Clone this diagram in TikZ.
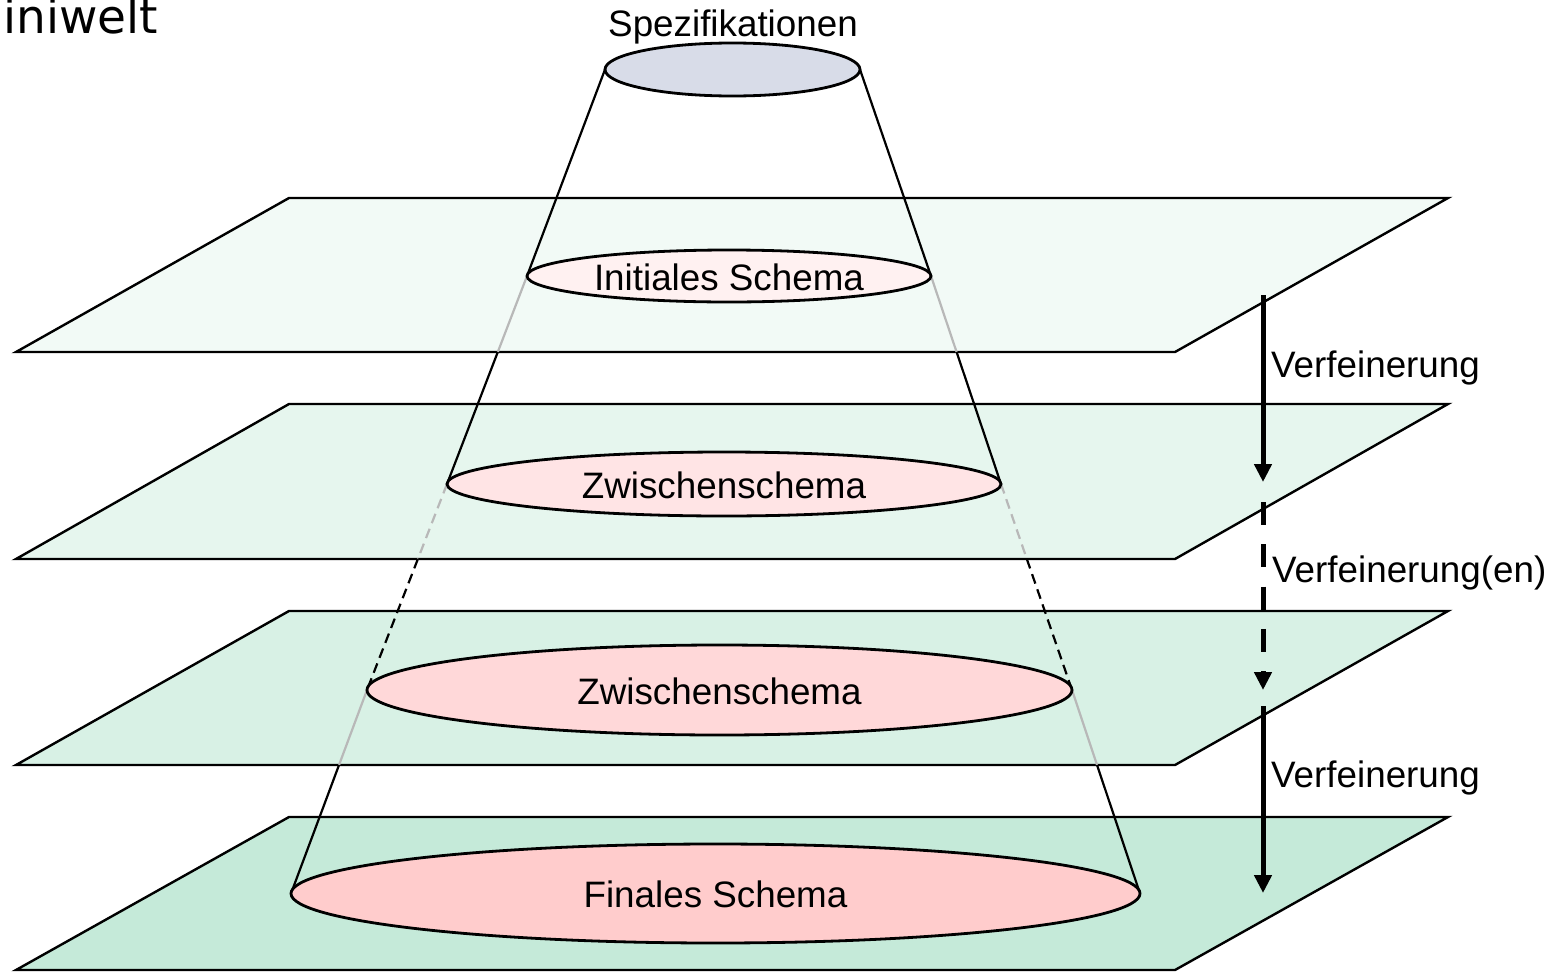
\documentclass[tikz,border=0pt]{standalone}
\usepackage{fontspec}
\setmainfont{Liberation Sans}
\newfontfamily\cornerfont{DejaVu Sans}
\usetikzlibrary{arrows.meta,shapes.geometric,calc}

\definecolor{planeA}{HTML}{F2FAF6}
\definecolor{planeB}{HTML}{E6F6EE}
\definecolor{planeC}{HTML}{D8F1E5}
\definecolor{planeD}{HTML}{C5EAD9}
\definecolor{specFill}{HTML}{D8DCE8}
\definecolor{initFill}{HTML}{FFF1F1}
\definecolor{zwaFill}{HTML}{FFE4E5}
\definecolor{zwbFill}{HTML}{FFD8D9}
\definecolor{finFill}{HTML}{FFCCCC}
\definecolor{coneGray}{HTML}{B8B8B8}

\pgfdeclarelayer{back}
\pgfdeclarelayer{mid}
\pgfsetlayers{back,mid,main}

\tikzset{
  plane/.style={draw=black, line width=2.4pt, line join=miter},
  cone/.style={draw=black, line width=2.2pt},
  hidden/.style={draw=coneGray, line width=2.2pt},
  brokenline/.style={dash pattern=on 10pt off 6pt},
  schema/.style={ellipse, draw=black, line width=2.8pt, inner sep=0pt, outer sep=0pt},
  lbl/.style={font=\fontsize{36.8}{44}\selectfont, inner sep=0pt, anchor=base},
  flow/.style={line width=5pt, -{Triangle[width=17pt,length=18pt]}},
}

\begin{document}
\begin{tikzpicture}[x=1pt,y=-1pt]
\useasboundingbox (0,0) rectangle (1566,972);

% plane corners
\coordinate (p1tl) at (289,198); \coordinate (p1tr) at (1448,198);
\coordinate (p1br) at (1175,352); \coordinate (p1bl) at (16,352);
\coordinate (p2tl) at (289,404); \coordinate (p2tr) at (1448,404);
\coordinate (p2br) at (1175,559); \coordinate (p2bl) at (16,559);
\coordinate (p3tl) at (289,611); \coordinate (p3tr) at (1448,611);
\coordinate (p3br) at (1175,765); \coordinate (p3bl) at (16,765);
\coordinate (p4tl) at (289,817); \coordinate (p4tr) at (1448,817);
\coordinate (p4br) at (1175,970); \coordinate (p4bl) at (16,970);

\begin{pgfonlayer}{back}
  \fill[white] (0,0) rectangle (1566,972);
  \path[plane, fill=planeA] (p1tl) -- (p1tr) -- (p1br) -- (p1bl) -- cycle;
  \path[plane, fill=planeB] (p2tl) -- (p2tr) -- (p2br) -- (p2bl) -- cycle;
  \path[plane, fill=planeC] (p3tl) -- (p3tr) -- (p3br) -- (p3bl) -- cycle;
  \path[plane, fill=planeD] (p4tl) -- (p4tr) -- (p4br) -- (p4bl) -- cycle;
\end{pgfonlayer}

% schema ellipses
\node[schema, fill=specFill, minimum width=255pt, minimum height=53pt] (spez) at (732.5,69.5) {};
\node[schema, fill=initFill, minimum width=404pt, minimum height=52pt] (init) at (729,276) {};
\node[schema, fill=zwaFill, minimum width=554pt, minimum height=64pt] (zwa) at (724,484) {};
\node[schema, fill=zwbFill, minimum width=705pt, minimum height=90pt] (zwb) at (719.5,690) {};
\node[schema, fill=finFill, minimum width=849pt, minimum height=99pt] (fin) at (715.5,893.5) {};

% texts
\node[lbl] (tspez) at (733,36) {Spezifikationen};
\node[lbl] (tinit) at ($(init.center)+(0,14)$) {Initiales Schema};
\node[lbl] (tzwa) at ($(zwa.center)+(0,14)$) {Zwischenschema};
\node[lbl] (tzwb) at ($(zwb.center)+(0,14)$) {Zwischenschema};
\node[lbl] (tfin) at ($(fin.center)+(0,14)$) {Finales Schema};

% where the cone leaves each plane
\coordinate (l1) at (intersection of init.west--zwa.west and p1bl--p1br);
\coordinate (l2) at (intersection of zwa.west--zwb.west and p2bl--p2br);
\coordinate (l3) at (intersection of zwb.west--fin.west and p3bl--p3br);
\coordinate (r1) at (intersection of init.east--zwa.east and p1bl--p1br);
\coordinate (r2) at (intersection of zwa.east--zwb.east and p2bl--p2br);
\coordinate (r3) at (intersection of zwb.east--fin.east and p3bl--p3br);

\begin{pgfonlayer}{mid}
  \draw[cone] (spez.west) -- (init.west);
  \draw[hidden] (init.west) -- (l1);
  \draw[cone] (l1) -- (zwa.west);
  \draw[hidden, brokenline] (zwa.west) -- (l2);
  \draw[cone, brokenline] (l2) -- (zwb.west);
  \draw[hidden] (zwb.west) -- (l3);
  \draw[cone] (l3) -- (fin.west);

  \draw[cone] (spez.east) -- (init.east);
  \draw[hidden] (init.east) -- (r1);
  \draw[cone] (r1) -- (zwa.east);
  \draw[hidden, brokenline] (zwa.east) -- (r2);
  \draw[cone, brokenline] (r2) -- (zwb.east);
  \draw[hidden] (zwb.east) -- (r3);
  \draw[cone] (r3) -- (fin.east);
\end{pgfonlayer}

% refinement arrows
\coordinate (a1s) at (1263,295); \coordinate (a1e) at (1263,482);
\coordinate (a2s) at (1263,502); \coordinate (a2e) at (1263,690);
\coordinate (a3s) at (1263,706); \coordinate (a3e) at (1263,893);
\draw[flow] (a1s) -- (a1e);
\draw[flow, dash pattern=on 23pt off 19.3pt] (a2s) -- (a2e);
\draw[flow] (a3s) -- (a3e);

\node[lbl, anchor=base west] (v1) at (1271,377) {Verfeinerung};
\node[lbl, anchor=base west] (v2) at (1272,582) {Verfeinerung(en)};
\node[lbl, anchor=base west] (v3) at (1271,787) {Verfeinerung};

\node[font=\cornerfont\fontsize{47}{54}\selectfont, inner sep=0pt, anchor=base west] (corner) at (3,33) {iniwelt};
\end{tikzpicture}
\end{document}
